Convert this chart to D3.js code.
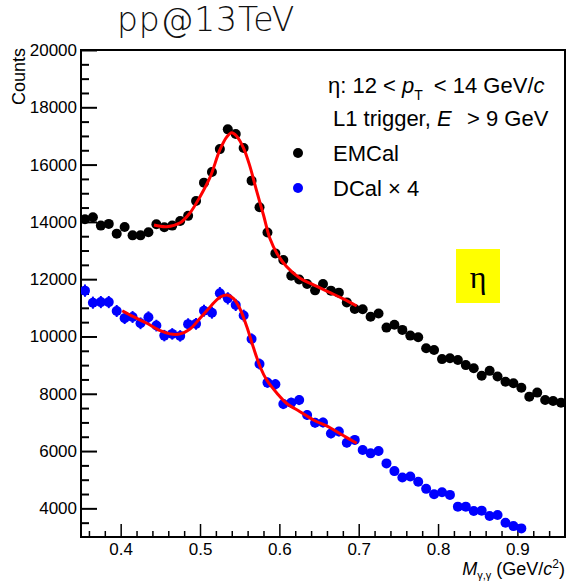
<!DOCTYPE html>
<html>
<head>
<meta charset="utf-8">
<script src="https://cdn.jsdelivr.net/npm/d3@7"></script>
<style>
  html, body { margin: 0; padding: 0; background: #fff; }
  svg { display: block; }
</style>
</head>
<body>
<svg id="chart" width="577" height="585"></svg>
<script>
// Invariant-mass bin centres (GeV/c^2)
const massEmcal = [0.355,0.365,0.375,0.385,0.395,0.405,0.415,0.425,0.435,0.445,
  0.455,0.465,0.475,0.485,0.495,0.505,0.515,0.525,0.535,0.545,
  0.555,0.565,0.575,0.585,0.595,0.605,0.615,0.625,0.635,0.645,
  0.655,0.665,0.675,0.685,0.695,0.705,0.715,0.725,0.735,0.745,
  0.755,0.765,0.775,0.785,0.795,0.805,0.815,0.825,0.835,0.845,
  0.855,0.865,0.875,0.885,0.895,0.905,0.915,0.925,0.935,0.945,0.955];

// EMCal counts per bin
const countsEmcal = [14090,14160,13870,13930,13590,13820,13530,13530,13640,13920,
  13810,13870,14030,14210,14730,15370,15740,16540,17230,17070,
  16580,15440,14510,13630,12900,12670,12120,11990,11830,11610,
  11830,11600,11530,11190,10960,10950,10690,10800,10310,10410,
  10230,10030,9970,9590,9530,9210,9240,9180,9000,8890,
  8630,8800,8600,8420,8370,8210,7900,8040,7780,7750,7690];

const massDcal = [0.355,0.365,0.375,0.385,0.395,0.405,0.415,0.425,0.435,0.445,
  0.455,0.465,0.475,0.485,0.495,0.505,0.515,0.525,0.535,0.545,
  0.555,0.565,0.575,0.585,0.595,0.605,0.615,0.625,0.635,0.645,
  0.655,0.665,0.675,0.685,0.695,0.705,0.715,0.725,0.735,0.745,
  0.755,0.765,0.775,0.785,0.795,0.805,0.815,0.825,0.835,0.845,
  0.855,0.865,0.875,0.885,0.895,0.905];

// DCal counts per bin, scaled by 4
const countsDcal = [11600,11180,11200,11200,10890,10640,10680,10460,10670,10380,
  10030,10090,10020,10430,10440,10900,10830,11510,11330,11100,
  10730,9910,9040,8390,8330,7640,7690,7780,7260,6990,
  7000,6610,6680,6290,6390,6040,5920,6000,5570,5300,
  5080,5110,4930,4680,4490,4560,4470,4060,4060,3910,
  3920,3730,3770,3500,3380,3300];

// Statistical uncertainty on the scaled DCal counts
const errDcal = [215,211,212,212,209,206,207,205,207,204,
  200,201,200,204,204,209,208,215,213,211,
  207,199,190,183,183,175,175,176,170,167,
  167,163,163,159,160,155,154,155,149,146,
  143,143,140,137,134,135,134,127,127,125,
  125,122,123,118,116,115];

// Signal + background fit curves, sampled along the fit range
const fitEmcalMass = [0.442,0.458,0.475,0.487,0.500,0.513,0.525,0.534,0.540,0.546,
  0.555,0.563,0.571,0.580,0.588,0.597,0.609,0.626,0.643,0.664,0.680,0.6975];
const fitEmcalCounts = [13890,13830,13970,14300,14880,15580,16510,16975,17115,17000,
  16570,15930,15115,14240,13430,12900,12440,12030,11800,11530,11320,11065];

const fitDcalMass = [0.402,0.416,0.433,0.450,0.462,0.475,0.487,0.500,0.513,0.525,
  0.534,0.542,0.550,0.559,0.567,0.576,0.584,0.597,0.609,0.626,0.643,0.664,0.680,0.6975];
const fitDcalCounts = [10900,10690,10460,10200,10090,10090,10250,10635,11040,11370,
  11450,11330,10985,10340,9640,8925,8480,8020,7670,7375,7085,6815,6550,6270];

// Axis ticks
const xMajorTicks = [0.4,0.5,0.6,0.7,0.8,0.9];
const xMinorTicks = [0.36,0.38,0.42,0.44,0.46,0.48,0.52,0.54,0.56,0.58,0.62,0.64,0.66,0.68,
  0.72,0.74,0.76,0.78,0.82,0.84,0.86,0.88,0.92,0.94];
const yMajorTicks = [4000,6000,8000,10000,12000,14000,16000,18000,20000];
const yMinorTicks = [3500,4500,5000,5500,6500,7000,7500,8500,9000,9500,10500,11000,11500,
  12500,13000,13500,14500,15000,15500,16500,17000,17500,18500,19000,19500];

const svg = d3.select("#chart");
const fontSans = "'Liberation Sans', Arial, Helvetica, sans-serif";

const plot = { left: 81, right: 565, top: 50, bottom: 537 };
const x = d3.scaleLinear().domain([0.35, 0.96]).range([plot.left, plot.right]);
const y = d3.scaleLinear().domain([3000, 20000]).range([plot.bottom, plot.top]);

// Title
svg.append("text")
  .attr("x", 117).attr("y", 31)
  .attr("font-family", "'DejaVu Sans', sans-serif")
  .attr("font-weight", 200)
  .attr("font-size", 33)
  .attr("letter-spacing", 0.8)
  .attr("fill", "#111")
  .text("pp@13TeV");

// Frame
svg.append("rect")
  .attr("x", plot.left).attr("y", plot.top)
  .attr("width", plot.right - plot.left).attr("height", plot.bottom - plot.top)
  .attr("fill", "none").attr("stroke", "#000").attr("stroke-width", 2);

// X axis: ticks point into the frame
const xAxisMajor = d3.axisBottom(x).tickValues(xMajorTicks)
  .tickSize(-13).tickPadding(6).tickFormat(d3.format(".1f"));
const xAxisMinor = d3.axisBottom(x).tickValues(xMinorTicks)
  .tickSize(-6).tickFormat("");

const gx = svg.append("g").attr("transform", `translate(0,${plot.bottom})`);
gx.append("g").call(xAxisMinor);
gx.append("g").call(xAxisMajor);
gx.selectAll(".domain").remove();
gx.selectAll("line").attr("stroke", "#000").attr("stroke-width", 1.5);
gx.selectAll("text").attr("font-family", fontSans).attr("font-size", 17).attr("fill", "#000");

// Y axis
const yAxisMajor = d3.axisLeft(y).tickValues(yMajorTicks)
  .tickSize(-16).tickPadding(4).tickFormat(d3.format("d"));
const yAxisMinor = d3.axisLeft(y).tickValues(yMinorTicks).tickSize(-8).tickFormat("");

const gy = svg.append("g").attr("transform", `translate(${plot.left},0)`);
gy.append("g").call(yAxisMinor);
gy.append("g").call(yAxisMajor);
gy.selectAll(".domain").remove();
gy.selectAll("line").attr("stroke", "#000").attr("stroke-width", 2);
gy.selectAll("text").attr("font-family", fontSans).attr("font-size", 17).attr("fill", "#000");

// Axis titles
svg.append("text")
  .attr("transform", "translate(25,48) rotate(-90)")
  .attr("text-anchor", "end")
  .attr("font-family", fontSans).attr("font-size", 18)
  .text("Counts");

const xTitle = svg.append("text")
  .attr("x", 565).attr("y", 575)
  .attr("text-anchor", "end")
  .attr("font-family", fontSans).attr("font-size", 18);
xTitle.append("tspan").attr("font-style", "italic").text("M");
xTitle.append("tspan").attr("font-size", 11).attr("dy", 4).text("γ,γ");
xTitle.append("tspan").attr("dy", -4).text(" (GeV/");
xTitle.append("tspan").attr("font-style", "italic").text("c");
xTitle.append("tspan").attr("font-size", 12).attr("dy", -7).text("2");
xTitle.append("tspan").attr("dy", 7).text(")");

// Clip everything drawn from data to the frame
svg.append("clipPath").attr("id", "plot-clip")
  .append("rect")
  .attr("x", plot.left).attr("y", plot.top)
  .attr("width", plot.right - plot.left).attr("height", plot.bottom - plot.top);
const gData = svg.append("g").attr("clip-path", "url(#plot-clip)");

const dcal = massDcal.map((m, i) => ({ m, c: countsDcal[i], e: errDcal[i] }));
const emcal = massEmcal.map((m, i) => ({ m, c: countsEmcal[i] }));

// DCal error bars and markers
gData.append("g").selectAll("line").data(dcal).join("line")
  .attr("x1", d => x(d.m)).attr("x2", d => x(d.m))
  .attr("y1", d => y(d.c - d.e)).attr("y2", d => y(d.c + d.e))
  .attr("stroke", "#0000ff").attr("stroke-width", 2);
gData.append("g").selectAll("circle").data(dcal).join("circle")
  .attr("cx", d => x(d.m)).attr("cy", d => y(d.c)).attr("r", 5)
  .attr("fill", "#0000ff");

// EMCal markers
gData.append("g").selectAll("circle").data(emcal).join("circle")
  .attr("cx", d => x(d.m)).attr("cy", d => y(d.c)).attr("r", 5)
  .attr("fill", "#000");

// Fit curves
const fitLine = d3.line().x(d => x(d[0])).y(d => y(d[1])).curve(d3.curveCatmullRom.alpha(0.5));
[[fitEmcalMass, fitEmcalCounts], [fitDcalMass, fitDcalCounts]].forEach(([ms, cs]) => {
  gData.append("path")
    .attr("d", fitLine(ms.map((m, i) => [m, cs[i]])))
    .attr("fill", "none").attr("stroke", "#ff0000").attr("stroke-width", 3)
    .attr("stroke-linejoin", "round").attr("stroke-linecap", "butt");
});

// Legend
const legendFont = 22;
const l1 = svg.append("text").attr("x", 328).attr("y", 93)
  .attr("font-family", fontSans).attr("font-size", legendFont);
l1.append("tspan").text("η: 12 < ");
l1.append("tspan").attr("font-style", "italic").text("p");
l1.append("tspan").attr("font-size", 14).attr("dy", 7).text("T");
l1.append("tspan").attr("dy", -7).text("\u2002< 14 GeV/");
l1.append("tspan").attr("font-style", "italic").text("c");

const l2 = svg.append("text").attr("x", 333).attr("y", 126)
  .attr("font-family", fontSans).attr("font-size", legendFont);
l2.append("tspan").text("L1 trigger, ");
l2.append("tspan").attr("font-style", "italic").text("E");
l2.append("tspan").text("\u2002\u2009> 9 GeV");

const legendItems = [
  { label: "EMCal", color: "#000", y: 153 },
  { label: "DCal × 4", color: "#0000ff", y: 188 }
];
const gLeg = svg.append("g");
gLeg.selectAll("circle").data(legendItems).join("circle")
  .attr("cx", 298).attr("cy", d => d.y).attr("r", 5).attr("fill", d => d.color);
gLeg.selectAll("text").data(legendItems).join("text")
  .attr("x", 333).attr("y", d => d.y + 8)
  .attr("font-family", fontSans).attr("font-size", legendFont)
  .text(d => d.label);

// Meson tag
svg.append("rect").attr("x", 456).attr("y", 249).attr("width", 44).attr("height", 54)
  .attr("fill", "#ffff00");
svg.append("text").attr("x", 478).attr("y", 288)
  .attr("text-anchor", "middle")
  .attr("font-family", "'Liberation Serif', 'Times New Roman', serif")
  .attr("font-size", 32)
  .text("η");
</script>
</body>
</html>
